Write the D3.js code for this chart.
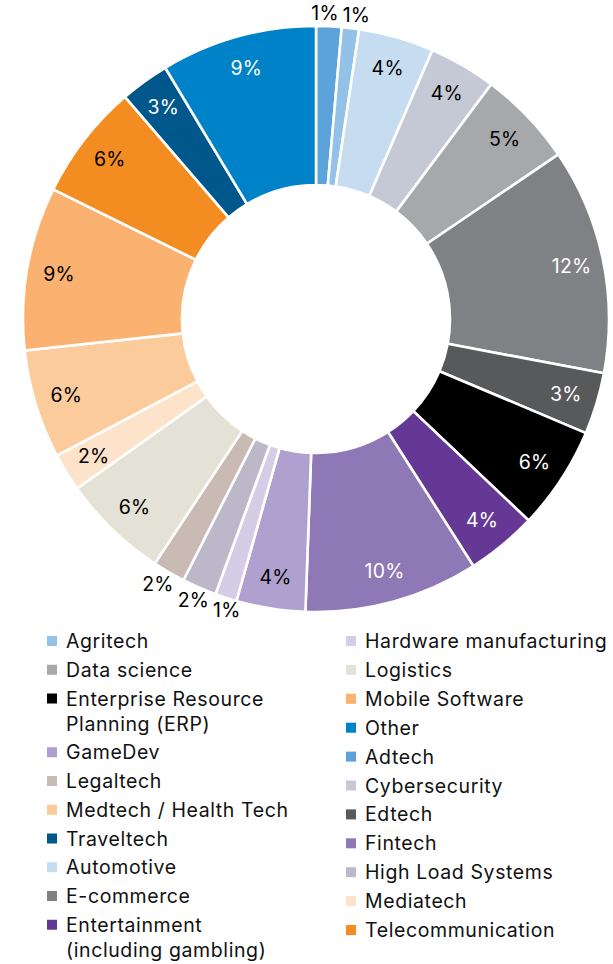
<!DOCTYPE html>
<html>
<head>
<meta charset="utf-8">
<script src="https://cdn.jsdelivr.net/npm/d3@7"></script>
<style>
  html, body { margin: 0; padding: 0; background: #fff; }
  svg { display: block; }
  text { font-family: Inter, "Noto Sans", sans-serif; }
</style>
</head>
<body>
<div id="chart"></div>
<script>
// слайсы по часовой стрелке от 12 часов (доли в %)
const categories = [
  "Adtech", "Agritech", "Automotive", "Cybersecurity", "Data science",
  "E-commerce", "Edtech", "Enterprise Resource Planning (ERP)",
  "Entertainment (including gambling)", "Fintech", "GameDev",
  "Hardware manufacturing", "High Load Systems", "Legaltech", "Logistics",
  "Mediatech", "Medtech / Health Tech", "Mobile Software",
  "Telecommunication", "Traveltech", "Other"
];
const shares = [
  1.4, 0.95, 4.15, 3.7, 5.3,
  12.45, 3.4, 5.7,
  3.9, 9.6, 3.8,
  1.2, 1.9, 1.8, 5.9,
  2.1, 6.0, 9.0,
  6.4, 2.7, 8.6
];
const colors = [
  "#5ba3da", "#93c1e8", "#c6dcf1", "#c5c9d6", "#a7a8ac",
  "#808184", "#58595b", "#000000",
  "#643894", "#8f78b6", "#b0a0cf",
  "#d5cde6", "#bdb7c9", "#c9bbb4", "#e4e2d6",
  "#fde3c9", "#fccb9b", "#fbb270",
  "#f48d21", "#00578b", "#0082c8"
];
// маленькие слайсы — подпись снаружи
const outsideLabels = ["Adtech", "Agritech", "Hardware manufacturing", "High Load Systems", "Legaltech"];

// легенда: две колонки
const legendLeft = [
  "Agritech", "Data science", "Enterprise Resource Planning (ERP)", "GameDev",
  "Legaltech", "Medtech / Health Tech", "Traveltech", "Automotive",
  "E-commerce", "Entertainment (including gambling)"
];
const legendRight = [
  "Hardware manufacturing", "Logistics", "Mobile Software", "Other", "Adtech",
  "Cybersecurity", "Edtech", "Fintech", "High Load Systems", "Mediatech",
  "Telecommunication"
];
const legendLines = {
  "Enterprise Resource Planning (ERP)": ["Enterprise Resource", "Planning (ERP)"],
  "Entertainment (including gambling)": ["Entertainment", "(including gambling)"]
};

const data = categories.map((name, i) => ({ name, value: shares[i], color: colors[i] }));
const colorOf = new Map(data.map(d => [d.name, d.color]));

const width = 613, height = 964;
const cx = 316, cy = 319;
const outerR = 293, innerR = 134;

const svg = d3.select("#chart").append("svg")
  .attr("width", width).attr("height", height)
  .attr("viewBox", [0, 0, width, height]);

const g = svg.append("g").attr("transform", `translate(${cx},${cy})`);

const pie = d3.pie().value(d => d.value).sort(null);
const arc = d3.arc().innerRadius(innerR).outerRadius(outerR);
const arcsData = pie(data);

g.selectAll("path").data(arcsData).join("path")
  .attr("d", arc)
  .attr("fill", d => d.data.color)
  .attr("stroke", "#fff")
  .attr("stroke-width", 2.6)
  .attr("stroke-linejoin", "miter");

// подписи процентов
const inArc = d3.arc().innerRadius(261).outerRadius(261);
const outArc = d3.arc().innerRadius(306).outerRadius(306);

const labels = g.selectAll("text.pct").data(arcsData).join("text")
  .attr("class", "pct")
  .attr("text-anchor", "middle")
  .attr("dy", "0.36em")
  .attr("font-size", 19.5)
  .attr("letter-spacing", 0.2)
  .attr("fill", d => {
    if (outsideLabels.includes(d.data.name)) return "#000";
    return d3.lab(d.data.color).l < 60 ? "#fff" : "#000";
  })
  .text(d => Math.round(d.data.value) + "%")
  .each(function(d) {
    const a = outsideLabels.includes(d.data.name) ? outArc : inArc;
    const [x, y] = a.centroid(d);
    d.lx = x; d.ly = y;
    d.w = this.getComputedTextLength();
  });

// раздвигаем наружные подписи, если наезжают друг на друга
const outs = arcsData.filter(d => outsideLabels.includes(d.data.name));
for (let iter = 0; iter < 30; iter++) {
  for (let i = 0; i < outs.length; i++) {
    for (let j = i + 1; j < outs.length; j++) {
      const a = outs[i], b = outs[j];
      const need = (a.w + b.w) / 2 + 4;
      const dx = b.lx - a.lx, dy = b.ly - a.ly;
      if (Math.abs(dy) < 18 && Math.abs(dx) < need) {
        const push = (need - Math.abs(dx)) / 2 * (dx >= 0 ? 1 : -1);
        a.lx -= push; b.lx += push;
      }
    }
  }
}
labels.attr("transform", d => `translate(${d.lx},${d.ly})`);

// легенда
function drawLegend(items, x0, y0, step, lineStep) {
  const lg = svg.append("g").attr("transform", `translate(${x0},${y0})`);
  let y = 0;
  items.forEach(name => {
    const lines = legendLines[name] || [name];
    const item = lg.append("g").attr("transform", `translate(0,${y})`);
    item.append("rect")
      .attr("x", 0).attr("y", -5)
      .attr("width", 10).attr("height", 10)
      .attr("fill", colorOf.get(name));
    item.selectAll("text").data(lines).join("text")
      .attr("x", 19)
      .attr("y", (d, i) => i * lineStep)
      .attr("dy", "0.36em")
      .attr("font-size", 19.5)
      .attr("letter-spacing", 0.6)
      .attr("fill", "#111")
      .text(d => d);
    y += step + (lines.length - 1) * lineStep;
  });
}

drawLegend(legendLeft, 47, 641, 28.75, 25);
drawLegend(legendRight, 346, 641, 28.9, 25);
</script>
</body>
</html>
